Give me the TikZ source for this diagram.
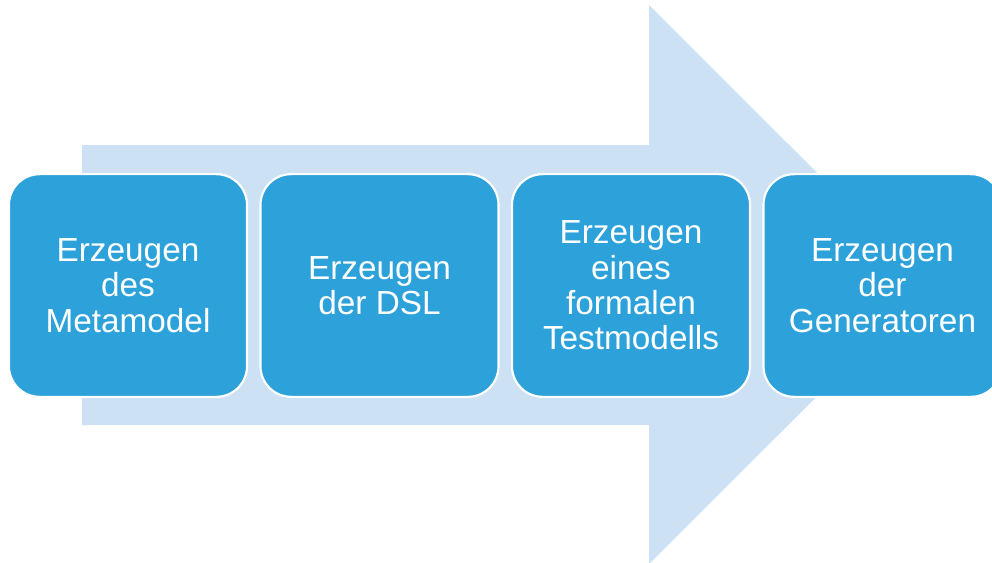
\documentclass[tikz,border=0pt]{standalone}
\usepackage{fontspec}
\setmainfont{Liberation Sans}
\definecolor{arrowfill}{RGB}{205,225,244}
\definecolor{boxfill}{RGB}{44,161,218}
\begin{document}
\begin{tikzpicture}[x=0.75pt,y=-0.75pt,
  stepbox/.style={draw=white, line width=1.6pt, fill=boxfill, rounded corners=23pt,
    minimum width=178.5pt, minimum height=167pt, inner sep=0pt, text=white,
    align=center, font=\fontsize{25}{26.5}\selectfont}]
\useasboundingbox (0,0) rectangle (992,562);
\clip (0,0) rectangle (992,562);
\fill[arrowfill] (82,145) -- (649,145) -- (649,5) -- (929,284.5) -- (649,564) -- (649,425) -- (82,425) -- cycle;
\node[stepbox] (s1) at (128,285.5) {Erzeugen\\des\\Metamodel};
\node[stepbox] (s2) at (379.5,285.5) {Erzeugen\\der DSL};
\node[stepbox] (s3) at (631,285.5) {Erzeugen\\eines\\formalen\\Testmodells};
\node[stepbox] (s4) at (882.5,285.5) {Erzeugen\\der\\Generatoren};
\end{tikzpicture}
\end{document}
